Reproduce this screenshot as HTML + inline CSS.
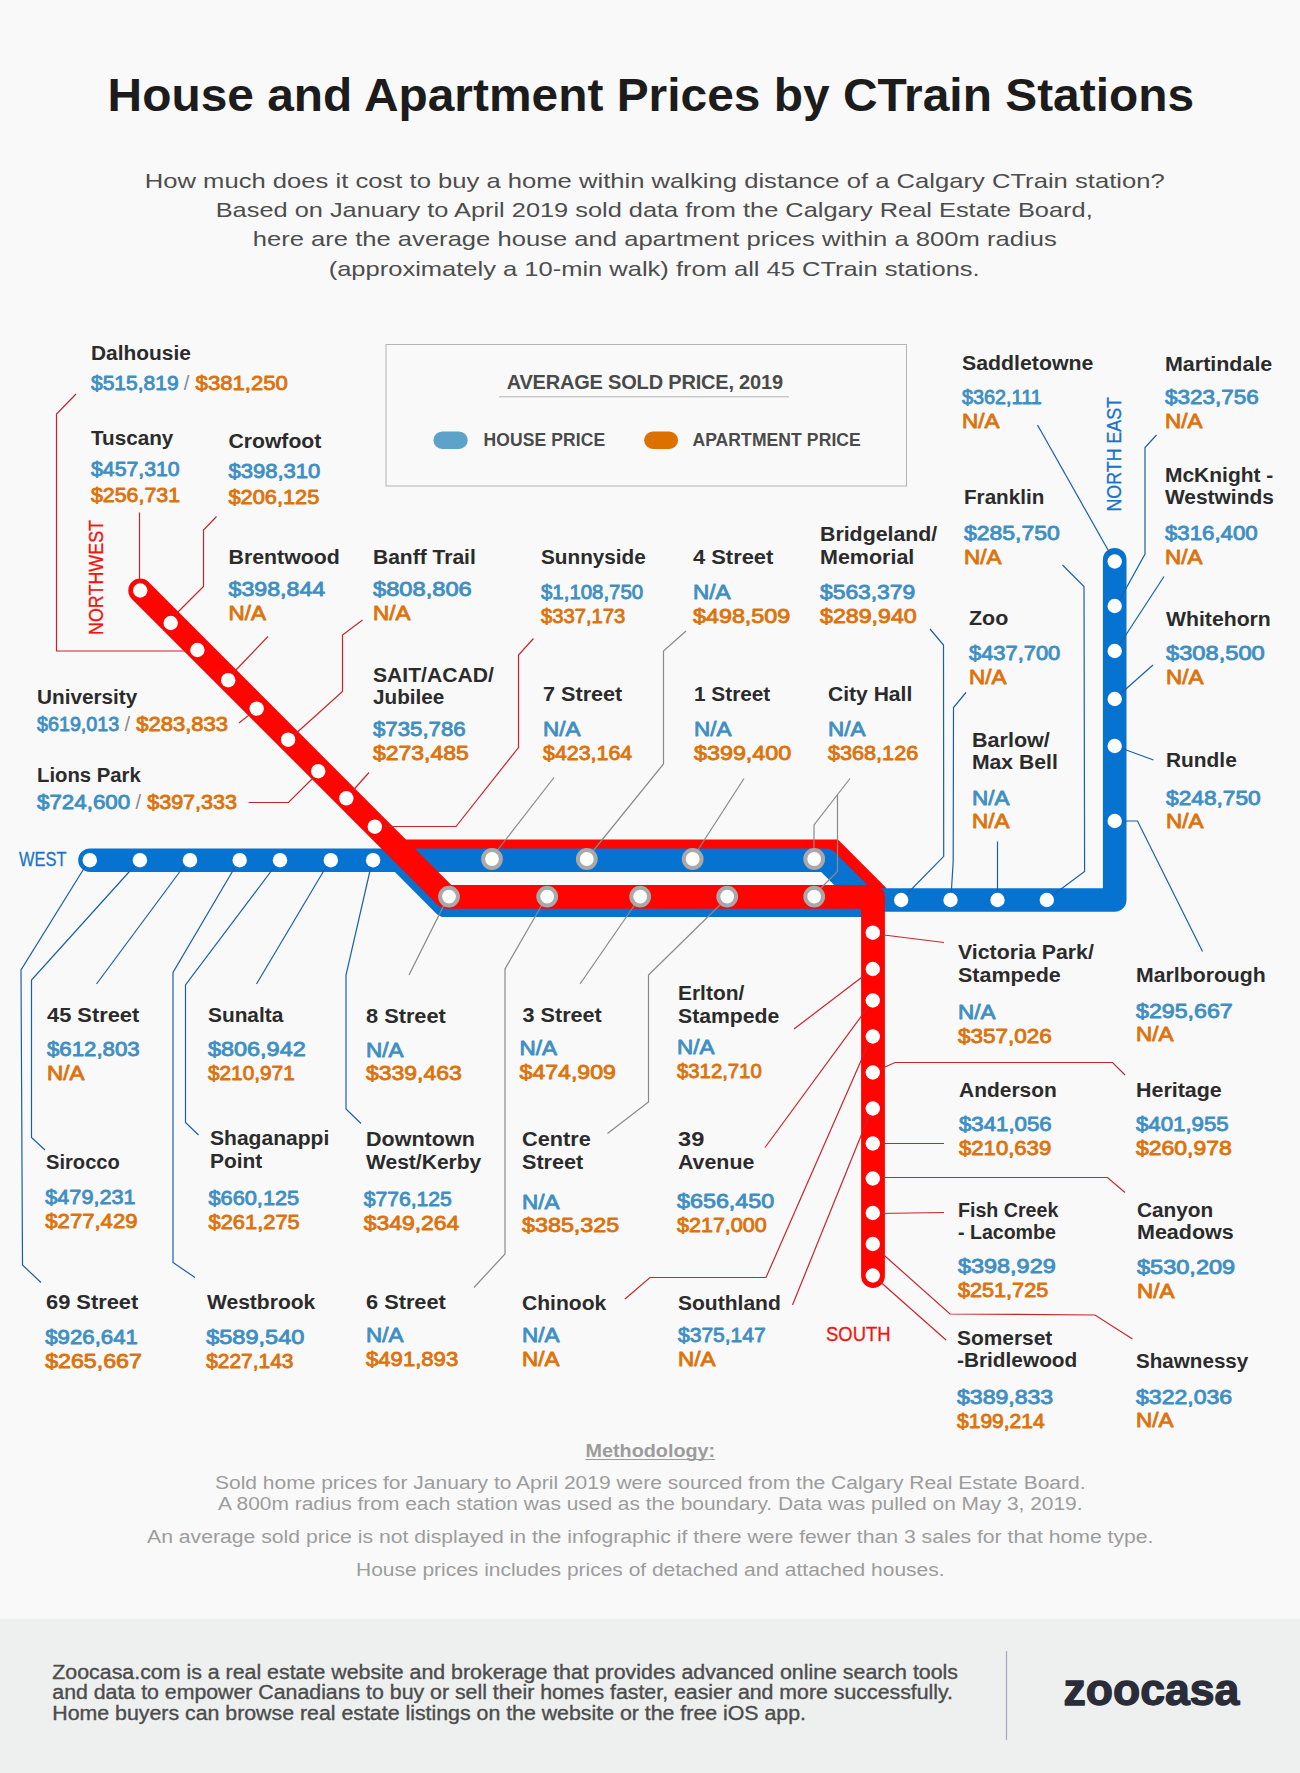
<!DOCTYPE html>
<html lang="en"><head><meta charset="utf-8"><title>House and Apartment Prices by CTrain Stations</title>
<style>
html,body{margin:0;padding:0;background:#f9f9f9;}
body{width:1300px;height:1773px;overflow:hidden;font-family:'Liberation Sans', sans-serif;}
svg{display:block;font-family:'Liberation Sans', sans-serif;}
</style></head><body>
<svg width="1300" height="1773" viewBox="0 0 1300 1773">
<rect x="0" y="0" width="1300" height="1773" fill="#f9f9f9"/>
<text x="107.6" y="110.8" font-size="46.5" fill="#1c1c1c" font-weight="bold" textLength="1086.5" lengthAdjust="spacingAndGlyphs">House and Apartment Prices by CTrain Stations</text>
<text x="144.7" y="188.3" font-size="21" fill="#4d4d4d" textLength="1020.0" lengthAdjust="spacingAndGlyphs">How much does it cost to buy a home within walking distance of a Calgary CTrain station?</text>
<text x="215.7" y="217.4" font-size="21" fill="#4d4d4d" textLength="877.0" lengthAdjust="spacingAndGlyphs">Based on January to April 2019 sold data from the Calgary Real Estate Board,</text>
<text x="252.7" y="246.3" font-size="21" fill="#4d4d4d" textLength="804.0" lengthAdjust="spacingAndGlyphs">here are the average house and apartment prices within a 800m radius</text>
<text x="328.7" y="275.7" font-size="21" fill="#4d4d4d" textLength="651.0" lengthAdjust="spacingAndGlyphs">(approximately a 10-min walk) from all 45 CTrain stations.</text>
<rect x="386" y="344.5" width="520.5" height="141.5" fill="none" stroke="#b4b4b4" stroke-width="1"/>
<text x="506.7" y="389.2" font-size="20" fill="#4a4a4a" font-weight="bold" textLength="276.3" lengthAdjust="spacing">AVERAGE SOLD PRICE, 2019</text>
<line x1="499" y1="396.8" x2="789" y2="396.8" stroke="#b4b4b4" stroke-width="1"/>
<rect x="433.5" y="431.5" width="34.2" height="17.4" rx="8.7" fill="#5da2c9"/>
<text x="483.4" y="445.9" font-size="17.5" fill="#4a4a4a" font-weight="bold" textLength="121.8" lengthAdjust="spacing">HOUSE PRICE</text>
<rect x="644.2" y="431.5" width="33.8" height="17.4" rx="8.7" fill="#dc7100"/>
<text x="692.4" y="445.9" font-size="17.5" fill="#4a4a4a" font-weight="bold" textLength="168.4" lengthAdjust="spacing">APARTMENT PRICE</text>
<polyline points="398,851.3 833,851.3 878,896.3" fill="none" stroke="#ff0400" stroke-width="23.6" stroke-linejoin="miter" stroke-linecap="butt"/>
<polyline points="399.5,860 444.8,905.3 873,905.3" fill="none" stroke="#0773d1" stroke-width="23.6" stroke-linejoin="round" stroke-linecap="butt"/>
<path d="M90,860.2 L826,860.2 L865.8,900 L1114.7,900 L1114.7,559.7" fill="none" stroke="#0773d1" stroke-width="23.6" stroke-linecap="round" stroke-linejoin="round"/>
<path d="M140.2,590.5 L446.4,896.9 L873,896.9 L873,1276" fill="none" stroke="#ff0400" stroke-width="23.8" stroke-linecap="round" stroke-linejoin="round"/>
<polyline points="76,394 56.5,414 56.5,651 190,651" fill="none" stroke="#c8252b" stroke-width="1.2"/>
<polyline points="139.5,512.5 139.5,585" fill="none" stroke="#c8252b" stroke-width="1.2"/>
<polyline points="216.5,516.5 203.5,530 203.5,586.5 176,614" fill="none" stroke="#c8252b" stroke-width="1.2"/>
<polyline points="268,636.5 233,673" fill="none" stroke="#c8252b" stroke-width="1.2"/>
<polyline points="239,723 258,708" fill="none" stroke="#c8252b" stroke-width="1.2"/>
<polyline points="362.5,620 342.5,635 342.5,691.5 292,737" fill="none" stroke="#c8252b" stroke-width="1.2"/>
<polyline points="248.5,802.5 288.5,802.5 318,773" fill="none" stroke="#c8252b" stroke-width="1.2"/>
<polyline points="369,772.5 349,795" fill="none" stroke="#c8252b" stroke-width="1.2"/>
<polyline points="533.5,638.5 518.5,655 518.5,747.5 456,826.5 378,826.5" fill="none" stroke="#c8252b" stroke-width="1.2"/>
<polyline points="554,777.5 493,856" fill="none" stroke="#8a8a8a" stroke-width="1.2"/>
<polyline points="686,631 663.5,651 663.5,764 589,856" fill="none" stroke="#8a8a8a" stroke-width="1.2"/>
<polyline points="744,778.5 694,856" fill="none" stroke="#8a8a8a" stroke-width="1.2"/>
<polyline points="850,778.5 814,825 814,856" fill="none" stroke="#8a8a8a" stroke-width="1.2"/>
<polyline points="837.5,795 837.5,871.4 816,893" fill="none" stroke="#8a8a8a" stroke-width="1.2"/>
<polyline points="445,903 409,975" fill="none" stroke="#8a8a8a" stroke-width="1.2"/>
<polyline points="543,903 505,969 505,1254 474,1287.5" fill="none" stroke="#8a8a8a" stroke-width="1.2"/>
<polyline points="636,903 580,984" fill="none" stroke="#8a8a8a" stroke-width="1.2"/>
<polyline points="722,903 648.5,975 648.5,1102 607.5,1133.5" fill="none" stroke="#8a8a8a" stroke-width="1.2"/>
<polyline points="88,862 21,970 22.5,1265 41,1282.5" fill="none" stroke="#1a5fab" stroke-width="1.2"/>
<polyline points="138,862 31.5,980 31.5,1137.5 45,1150" fill="none" stroke="#1a5fab" stroke-width="1.2"/>
<polyline points="187,862 96.5,984" fill="none" stroke="#1a5fab" stroke-width="1.2"/>
<polyline points="238,862 173,972.5 173,1262.5 195,1277.5" fill="none" stroke="#1a5fab" stroke-width="1.2"/>
<polyline points="278,862 185.5,985 185.5,1122.5 198.5,1135" fill="none" stroke="#1a5fab" stroke-width="1.2"/>
<polyline points="329,862 256.5,984" fill="none" stroke="#1a5fab" stroke-width="1.2"/>
<polyline points="372,862 346,975 346,1109 361,1123.5" fill="none" stroke="#1a5fab" stroke-width="1.2"/>
<polyline points="1037.5,425 1112,557" fill="none" stroke="#1a5fab" stroke-width="1.2"/>
<polyline points="1156.5,435 1145,447.5 1145,554 1118,603" fill="none" stroke="#1a5fab" stroke-width="1.2"/>
<polyline points="1164,576.5 1118,647" fill="none" stroke="#1a5fab" stroke-width="1.2"/>
<polyline points="1153,665 1118,696" fill="none" stroke="#1a5fab" stroke-width="1.2"/>
<polyline points="1153.5,760 1118,747" fill="none" stroke="#1a5fab" stroke-width="1.2"/>
<polyline points="1117,821 1137.5,821 1202.5,951.5" fill="none" stroke="#1a5fab" stroke-width="1.2"/>
<polyline points="1062.5,565 1084,586.5 1084.6,871.4 1049,898" fill="none" stroke="#1a5fab" stroke-width="1.2"/>
<polyline points="966,692.5 953.5,707.5 953.2,861.5 951,897" fill="none" stroke="#1a5fab" stroke-width="1.2"/>
<polyline points="930,629 943.5,645 943.7,856.3 903,898" fill="none" stroke="#1a5fab" stroke-width="1.2"/>
<polyline points="997.5,841.5 997.5,897" fill="none" stroke="#1a5fab" stroke-width="1.2"/>
<polyline points="876,934 944,942.5" fill="none" stroke="#c8252b" stroke-width="1.2"/>
<polyline points="794,1029 870,971" fill="none" stroke="#c8252b" stroke-width="1.2"/>
<polyline points="765,1147.5 871,1003" fill="none" stroke="#c8252b" stroke-width="1.2"/>
<polyline points="871,1038 766,1277.5 650,1277.5 625,1299" fill="none" stroke="#c8252b" stroke-width="1.2"/>
<polyline points="792.5,1305 871,1111" fill="none" stroke="#c8252b" stroke-width="1.2"/>
<polyline points="876,1071 895,1062.5 1112.5,1062.5 1125,1075" fill="none" stroke="#c8252b" stroke-width="1.2"/>
<polyline points="876,1143.5 944,1143.5" fill="none" stroke="#c8252b" stroke-width="1.2"/>
<polyline points="876,1177.5 1107.5,1177.5 1125,1192.5" fill="none" stroke="#c8252b" stroke-width="1.2"/>
<polyline points="876,1213.5 944,1212.5" fill="none" stroke="#c8252b" stroke-width="1.2"/>
<polyline points="876,1248 950,1314 1095,1315 1132.5,1339" fill="none" stroke="#c8252b" stroke-width="1.2"/>
<polyline points="876,1278 946,1340" fill="none" stroke="#c8252b" stroke-width="1.2"/>
<circle cx="140.2" cy="590.5" r="7.2" fill="#fff"/>
<circle cx="170.7" cy="623" r="7.2" fill="#fff"/>
<circle cx="197.4" cy="650" r="7.2" fill="#fff"/>
<circle cx="228.2" cy="680.2" r="7.2" fill="#fff"/>
<circle cx="256.7" cy="708.6" r="7.2" fill="#fff"/>
<circle cx="288.1" cy="739.7" r="7.2" fill="#fff"/>
<circle cx="318.2" cy="771.2" r="7.2" fill="#fff"/>
<circle cx="346.3" cy="798.3" r="7.2" fill="#fff"/>
<circle cx="374.8" cy="826.7" r="7.2" fill="#fff"/>
<circle cx="89.8" cy="860.2" r="7.2" fill="#fff"/>
<circle cx="139.9" cy="860.2" r="7.2" fill="#fff"/>
<circle cx="190" cy="860.2" r="7.2" fill="#fff"/>
<circle cx="239.7" cy="860.2" r="7.2" fill="#fff"/>
<circle cx="280" cy="860.2" r="7.2" fill="#fff"/>
<circle cx="330.8" cy="860.2" r="7.2" fill="#fff"/>
<circle cx="373.1" cy="860.2" r="7.2" fill="#fff"/>
<circle cx="492" cy="859" r="8.9" fill="#fff" stroke="#a9a9a9" stroke-width="4"/>
<circle cx="586.8" cy="859" r="8.9" fill="#fff" stroke="#a9a9a9" stroke-width="4"/>
<circle cx="692.7" cy="859" r="8.9" fill="#fff" stroke="#a9a9a9" stroke-width="4"/>
<circle cx="814.2" cy="859" r="8.9" fill="#fff" stroke="#a9a9a9" stroke-width="4"/>
<circle cx="449" cy="896.6" r="8.9" fill="#fff" stroke="#a9a9a9" stroke-width="4"/>
<circle cx="547.2" cy="896.6" r="8.9" fill="#fff" stroke="#a9a9a9" stroke-width="4"/>
<circle cx="640.2" cy="896.6" r="8.9" fill="#fff" stroke="#a9a9a9" stroke-width="4"/>
<circle cx="727.2" cy="896.6" r="8.9" fill="#fff" stroke="#a9a9a9" stroke-width="4"/>
<circle cx="814.2" cy="896.6" r="8.9" fill="#fff" stroke="#a9a9a9" stroke-width="4"/>
<circle cx="901.2" cy="900" r="7.2" fill="#fff"/>
<circle cx="950.5" cy="900" r="7.2" fill="#fff"/>
<circle cx="997.5" cy="900" r="7.2" fill="#fff"/>
<circle cx="1046.8" cy="900" r="7.2" fill="#fff"/>
<circle cx="1114.7" cy="561.5" r="7.2" fill="#fff"/>
<circle cx="1114.7" cy="606" r="7.2" fill="#fff"/>
<circle cx="1114.7" cy="651" r="7.2" fill="#fff"/>
<circle cx="1114.7" cy="699" r="7.2" fill="#fff"/>
<circle cx="1114.7" cy="746" r="7.2" fill="#fff"/>
<circle cx="1114.7" cy="821" r="7.2" fill="#fff"/>
<circle cx="872.8" cy="932.7" r="7.2" fill="#fff"/>
<circle cx="872.8" cy="969" r="7.2" fill="#fff"/>
<circle cx="872.8" cy="1000.5" r="7.2" fill="#fff"/>
<circle cx="872.8" cy="1036.5" r="7.2" fill="#fff"/>
<circle cx="872.8" cy="1072.5" r="7.2" fill="#fff"/>
<circle cx="872.8" cy="1108.5" r="7.2" fill="#fff"/>
<circle cx="872.8" cy="1143.5" r="7.2" fill="#fff"/>
<circle cx="872.8" cy="1178.5" r="7.2" fill="#fff"/>
<circle cx="872.8" cy="1213" r="7.2" fill="#fff"/>
<circle cx="872.8" cy="1244" r="7.2" fill="#fff"/>
<circle cx="872.8" cy="1275.5" r="7.2" fill="#fff"/>
<text x="19" y="866.3" font-size="20.5" fill="#1a73c6" textLength="47.5" lengthAdjust="spacingAndGlyphs" stroke="#1a73c6" stroke-width="0.3">WEST</text>
<text x="826" y="1340.5" font-size="20.5" fill="#f6120e" textLength="64.5" lengthAdjust="spacingAndGlyphs" stroke="#f6120e" stroke-width="0.3">SOUTH</text>
<text transform="translate(103.2,635) rotate(-90)" font-size="20.5" fill="#f6120e" stroke="#f6120e" stroke-width="0.3" textLength="115" lengthAdjust="spacingAndGlyphs">NORTHWEST</text>
<text transform="translate(1121.4,511.5) rotate(-90)" font-size="20.5" fill="#1a73c6" stroke="#1a73c6" stroke-width="0.3" textLength="114.5" lengthAdjust="spacingAndGlyphs">NORTH EAST</text>
<text x="91" y="360.3" font-size="19.5" fill="#2b2b2b" font-weight="bold" textLength="99.8" lengthAdjust="spacingAndGlyphs">Dalhousie</text>
<text x="91" y="389.6" font-size="20" fill="#3f8fc3" textLength="87.6" lengthAdjust="spacingAndGlyphs" stroke="#3f8fc3" stroke-width="0.85" stroke-linejoin="round">$515,819</text>
<text x="183.8" y="389.6" font-size="20" fill="#8a8a8a">/</text>
<text x="195.6" y="389.6" font-size="20" fill="#dc730c" textLength="92.2" lengthAdjust="spacingAndGlyphs" stroke="#dc730c" stroke-width="0.85" stroke-linejoin="round">$381,250</text>
<text x="91" y="445.3" font-size="19.5" fill="#2b2b2b" font-weight="bold" textLength="82.3" lengthAdjust="spacingAndGlyphs">Tuscany</text>
<text x="91" y="476.4" font-size="20" fill="#3f8fc3" textLength="88.6" lengthAdjust="spacingAndGlyphs" stroke="#3f8fc3" stroke-width="0.85" stroke-linejoin="round">$457,310</text>
<text x="91" y="501.6" font-size="20" fill="#dc730c" textLength="89.0" lengthAdjust="spacingAndGlyphs" stroke="#dc730c" stroke-width="0.85" stroke-linejoin="round">$256,731</text>
<text x="228.5" y="447.9" font-size="19.5" fill="#2b2b2b" font-weight="bold" textLength="92.8" lengthAdjust="spacingAndGlyphs">Crowfoot</text>
<text x="228.5" y="478.4" font-size="20" fill="#3f8fc3" textLength="91.8" lengthAdjust="spacingAndGlyphs" stroke="#3f8fc3" stroke-width="0.85" stroke-linejoin="round">$398,310</text>
<text x="228.5" y="504" font-size="20" fill="#dc730c" textLength="90.8" lengthAdjust="spacingAndGlyphs" stroke="#dc730c" stroke-width="0.85" stroke-linejoin="round">$206,125</text>
<text x="228.5" y="564.3" font-size="19.5" fill="#2b2b2b" font-weight="bold" textLength="111.3" lengthAdjust="spacingAndGlyphs">Brentwood</text>
<text x="228.5" y="595.5" font-size="20" fill="#3f8fc3" textLength="96.7" lengthAdjust="spacingAndGlyphs" stroke="#3f8fc3" stroke-width="0.85" stroke-linejoin="round">$398,844</text>
<text x="228.5" y="619.5" font-size="20" fill="#dc730c" textLength="37.4" lengthAdjust="spacingAndGlyphs" stroke="#dc730c" stroke-width="0.85" stroke-linejoin="round">N/A</text>
<text x="373" y="564.3" font-size="19.5" fill="#2b2b2b" font-weight="bold" textLength="102.8" lengthAdjust="spacingAndGlyphs">Banff Trail</text>
<text x="373" y="595.5" font-size="20" fill="#3f8fc3" textLength="98.7" lengthAdjust="spacingAndGlyphs" stroke="#3f8fc3" stroke-width="0.85" stroke-linejoin="round">$808,806</text>
<text x="373" y="619.5" font-size="20" fill="#dc730c" textLength="37.4" lengthAdjust="spacingAndGlyphs" stroke="#dc730c" stroke-width="0.85" stroke-linejoin="round">N/A</text>
<text x="541" y="564.3" font-size="19.5" fill="#2b2b2b" font-weight="bold" textLength="104.8" lengthAdjust="spacingAndGlyphs">Sunnyside</text>
<text x="541" y="599" font-size="20" fill="#3f8fc3" textLength="102.2" lengthAdjust="spacingAndGlyphs" stroke="#3f8fc3" stroke-width="0.85" stroke-linejoin="round">$1,108,750</text>
<text x="541" y="622.5" font-size="20" fill="#dc730c" textLength="84.2" lengthAdjust="spacingAndGlyphs" stroke="#dc730c" stroke-width="0.85" stroke-linejoin="round">$337,173</text>
<text x="693" y="564.3" font-size="19.5" fill="#2b2b2b" font-weight="bold" textLength="80.3" lengthAdjust="spacingAndGlyphs">4 Street</text>
<text x="693" y="599" font-size="20" fill="#3f8fc3" textLength="37.4" lengthAdjust="spacingAndGlyphs" stroke="#3f8fc3" stroke-width="0.85" stroke-linejoin="round">N/A</text>
<text x="693" y="622.5" font-size="20" fill="#dc730c" textLength="97.2" lengthAdjust="spacingAndGlyphs" stroke="#dc730c" stroke-width="0.85" stroke-linejoin="round">$498,509</text>
<text x="820" y="541.3" font-size="19.5" fill="#2b2b2b" font-weight="bold" textLength="117.3" lengthAdjust="spacingAndGlyphs">Bridgeland/</text>
<text x="820" y="564.3" font-size="19.5" fill="#2b2b2b" font-weight="bold" textLength="94.3" lengthAdjust="spacingAndGlyphs">Memorial</text>
<text x="820" y="599" font-size="20" fill="#3f8fc3" textLength="95.2" lengthAdjust="spacingAndGlyphs" stroke="#3f8fc3" stroke-width="0.85" stroke-linejoin="round">$563,379</text>
<text x="820" y="622.5" font-size="20" fill="#dc730c" textLength="96.7" lengthAdjust="spacingAndGlyphs" stroke="#dc730c" stroke-width="0.85" stroke-linejoin="round">$289,940</text>
<text x="37" y="704.3" font-size="19.5" fill="#2b2b2b" font-weight="bold" textLength="100.3" lengthAdjust="spacingAndGlyphs">University</text>
<text x="37" y="731" font-size="20" fill="#3f8fc3" textLength="82.2" lengthAdjust="spacingAndGlyphs" stroke="#3f8fc3" stroke-width="0.85" stroke-linejoin="round">$619,013</text>
<text x="124.39999999999999" y="731" font-size="20" fill="#8a8a8a">/</text>
<text x="136.2" y="731" font-size="20" fill="#dc730c" textLength="91.8" lengthAdjust="spacingAndGlyphs" stroke="#dc730c" stroke-width="0.85" stroke-linejoin="round">$283,833</text>
<text x="37" y="782.3" font-size="19.5" fill="#2b2b2b" font-weight="bold" textLength="103.8" lengthAdjust="spacingAndGlyphs">Lions Park</text>
<text x="37" y="809" font-size="20" fill="#3f8fc3" textLength="93.2" lengthAdjust="spacingAndGlyphs" stroke="#3f8fc3" stroke-width="0.85" stroke-linejoin="round">$724,600</text>
<text x="135.4" y="809" font-size="20" fill="#8a8a8a">/</text>
<text x="147.2" y="809" font-size="20" fill="#dc730c" textLength="89.8" lengthAdjust="spacingAndGlyphs" stroke="#dc730c" stroke-width="0.85" stroke-linejoin="round">$397,333</text>
<text x="373" y="682.3" font-size="19.5" fill="#2b2b2b" font-weight="bold" textLength="120.8" lengthAdjust="spacingAndGlyphs">SAIT/ACAD/</text>
<text x="373" y="704.3" font-size="19.5" fill="#2b2b2b" font-weight="bold" textLength="71.3" lengthAdjust="spacingAndGlyphs">Jubilee</text>
<text x="373" y="736" font-size="20" fill="#3f8fc3" textLength="92.7" lengthAdjust="spacingAndGlyphs" stroke="#3f8fc3" stroke-width="0.85" stroke-linejoin="round">$735,786</text>
<text x="373" y="760" font-size="20" fill="#dc730c" textLength="95.7" lengthAdjust="spacingAndGlyphs" stroke="#dc730c" stroke-width="0.85" stroke-linejoin="round">$273,485</text>
<text x="543" y="701.3" font-size="19.5" fill="#2b2b2b" font-weight="bold" textLength="79.3" lengthAdjust="spacingAndGlyphs">7 Street</text>
<text x="543" y="736" font-size="20" fill="#3f8fc3" textLength="37.4" lengthAdjust="spacingAndGlyphs" stroke="#3f8fc3" stroke-width="0.85" stroke-linejoin="round">N/A</text>
<text x="543" y="760" font-size="20" fill="#dc730c" textLength="89.2" lengthAdjust="spacingAndGlyphs" stroke="#dc730c" stroke-width="0.85" stroke-linejoin="round">$423,164</text>
<text x="694" y="701.3" font-size="19.5" fill="#2b2b2b" font-weight="bold" textLength="76.3" lengthAdjust="spacingAndGlyphs">1 Street</text>
<text x="694" y="736" font-size="20" fill="#3f8fc3" textLength="37.4" lengthAdjust="spacingAndGlyphs" stroke="#3f8fc3" stroke-width="0.85" stroke-linejoin="round">N/A</text>
<text x="694" y="760" font-size="20" fill="#dc730c" textLength="97.2" lengthAdjust="spacingAndGlyphs" stroke="#dc730c" stroke-width="0.85" stroke-linejoin="round">$399,400</text>
<text x="828" y="701.3" font-size="19.5" fill="#2b2b2b" font-weight="bold" textLength="84.3" lengthAdjust="spacingAndGlyphs">City Hall</text>
<text x="828" y="736" font-size="20" fill="#3f8fc3" textLength="37.4" lengthAdjust="spacingAndGlyphs" stroke="#3f8fc3" stroke-width="0.85" stroke-linejoin="round">N/A</text>
<text x="828" y="760" font-size="20" fill="#dc730c" textLength="90.2" lengthAdjust="spacingAndGlyphs" stroke="#dc730c" stroke-width="0.85" stroke-linejoin="round">$368,126</text>
<text x="962" y="369.9" font-size="19.5" fill="#2b2b2b" font-weight="bold" textLength="131.3" lengthAdjust="spacingAndGlyphs">Saddletowne</text>
<text x="962" y="403.5" font-size="20" fill="#3f8fc3" textLength="79.7" lengthAdjust="spacingAndGlyphs" stroke="#3f8fc3" stroke-width="0.85" stroke-linejoin="round">$362,111</text>
<text x="962" y="427.5" font-size="20" fill="#dc730c" textLength="37.4" lengthAdjust="spacingAndGlyphs" stroke="#dc730c" stroke-width="0.85" stroke-linejoin="round">N/A</text>
<text x="1165" y="370.9" font-size="19.5" fill="#2b2b2b" font-weight="bold" textLength="107.3" lengthAdjust="spacingAndGlyphs">Martindale</text>
<text x="1165" y="403.5" font-size="20" fill="#3f8fc3" textLength="93.7" lengthAdjust="spacingAndGlyphs" stroke="#3f8fc3" stroke-width="0.85" stroke-linejoin="round">$323,756</text>
<text x="1165" y="427.5" font-size="20" fill="#dc730c" textLength="37.4" lengthAdjust="spacingAndGlyphs" stroke="#dc730c" stroke-width="0.85" stroke-linejoin="round">N/A</text>
<text x="964" y="503.9" font-size="19.5" fill="#2b2b2b" font-weight="bold" textLength="80.3" lengthAdjust="spacingAndGlyphs">Franklin</text>
<text x="964" y="539.5" font-size="20" fill="#3f8fc3" textLength="95.7" lengthAdjust="spacingAndGlyphs" stroke="#3f8fc3" stroke-width="0.85" stroke-linejoin="round">$285,750</text>
<text x="964" y="563.5" font-size="20" fill="#dc730c" textLength="37.4" lengthAdjust="spacingAndGlyphs" stroke="#dc730c" stroke-width="0.85" stroke-linejoin="round">N/A</text>
<text x="1165" y="481.9" font-size="19.5" fill="#2b2b2b" font-weight="bold" textLength="108.3" lengthAdjust="spacingAndGlyphs">McKnight -</text>
<text x="1165" y="503.9" font-size="19.5" fill="#2b2b2b" font-weight="bold" textLength="108.8" lengthAdjust="spacingAndGlyphs">Westwinds</text>
<text x="1165" y="539.5" font-size="20" fill="#3f8fc3" textLength="92.7" lengthAdjust="spacingAndGlyphs" stroke="#3f8fc3" stroke-width="0.85" stroke-linejoin="round">$316,400</text>
<text x="1165" y="563.5" font-size="20" fill="#dc730c" textLength="37.4" lengthAdjust="spacingAndGlyphs" stroke="#dc730c" stroke-width="0.85" stroke-linejoin="round">N/A</text>
<text x="969" y="624.9" font-size="19.5" fill="#2b2b2b" font-weight="bold" textLength="39.3" lengthAdjust="spacingAndGlyphs">Zoo</text>
<text x="969" y="659.5" font-size="20" fill="#3f8fc3" textLength="91.2" lengthAdjust="spacingAndGlyphs" stroke="#3f8fc3" stroke-width="0.85" stroke-linejoin="round">$437,700</text>
<text x="969" y="683.5" font-size="20" fill="#dc730c" textLength="37.4" lengthAdjust="spacingAndGlyphs" stroke="#dc730c" stroke-width="0.85" stroke-linejoin="round">N/A</text>
<text x="1166" y="625.9" font-size="19.5" fill="#2b2b2b" font-weight="bold" textLength="104.8" lengthAdjust="spacingAndGlyphs">Whitehorn</text>
<text x="1166" y="659.5" font-size="20" fill="#3f8fc3" textLength="98.7" lengthAdjust="spacingAndGlyphs" stroke="#3f8fc3" stroke-width="0.85" stroke-linejoin="round">$308,500</text>
<text x="1166" y="683.5" font-size="20" fill="#dc730c" textLength="37.4" lengthAdjust="spacingAndGlyphs" stroke="#dc730c" stroke-width="0.85" stroke-linejoin="round">N/A</text>
<text x="972" y="746.9" font-size="19.5" fill="#2b2b2b" font-weight="bold" textLength="77.8" lengthAdjust="spacingAndGlyphs">Barlow/</text>
<text x="972" y="768.9" font-size="19.5" fill="#2b2b2b" font-weight="bold" textLength="85.8" lengthAdjust="spacingAndGlyphs">Max Bell</text>
<text x="972" y="804.5" font-size="20" fill="#3f8fc3" textLength="37.4" lengthAdjust="spacingAndGlyphs" stroke="#3f8fc3" stroke-width="0.85" stroke-linejoin="round">N/A</text>
<text x="972" y="827.5" font-size="20" fill="#dc730c" textLength="37.4" lengthAdjust="spacingAndGlyphs" stroke="#dc730c" stroke-width="0.85" stroke-linejoin="round">N/A</text>
<text x="1166" y="766.9" font-size="19.5" fill="#2b2b2b" font-weight="bold" textLength="70.8" lengthAdjust="spacingAndGlyphs">Rundle</text>
<text x="1166" y="804.5" font-size="20" fill="#3f8fc3" textLength="94.7" lengthAdjust="spacingAndGlyphs" stroke="#3f8fc3" stroke-width="0.85" stroke-linejoin="round">$248,750</text>
<text x="1166" y="827.5" font-size="20" fill="#dc730c" textLength="37.4" lengthAdjust="spacingAndGlyphs" stroke="#dc730c" stroke-width="0.85" stroke-linejoin="round">N/A</text>
<text x="958" y="958.9" font-size="19.5" fill="#2b2b2b" font-weight="bold" textLength="135.8" lengthAdjust="spacingAndGlyphs">Victoria Park/</text>
<text x="958" y="981.9" font-size="19.5" fill="#2b2b2b" font-weight="bold" textLength="102.8" lengthAdjust="spacingAndGlyphs">Stampede</text>
<text x="958" y="1018.5" font-size="20" fill="#3f8fc3" textLength="37.4" lengthAdjust="spacingAndGlyphs" stroke="#3f8fc3" stroke-width="0.85" stroke-linejoin="round">N/A</text>
<text x="958" y="1042.5" font-size="20" fill="#dc730c" textLength="93.7" lengthAdjust="spacingAndGlyphs" stroke="#dc730c" stroke-width="0.85" stroke-linejoin="round">$357,026</text>
<text x="1136" y="981.9" font-size="19.5" fill="#2b2b2b" font-weight="bold" textLength="129.8" lengthAdjust="spacingAndGlyphs">Marlborough</text>
<text x="1136" y="1017.5" font-size="20" fill="#3f8fc3" textLength="96.7" lengthAdjust="spacingAndGlyphs" stroke="#3f8fc3" stroke-width="0.85" stroke-linejoin="round">$295,667</text>
<text x="1136" y="1040.5" font-size="20" fill="#dc730c" textLength="37.4" lengthAdjust="spacingAndGlyphs" stroke="#dc730c" stroke-width="0.85" stroke-linejoin="round">N/A</text>
<text x="959" y="1096.9" font-size="19.5" fill="#2b2b2b" font-weight="bold" textLength="97.8" lengthAdjust="spacingAndGlyphs">Anderson</text>
<text x="959" y="1130.5" font-size="20" fill="#3f8fc3" textLength="92.7" lengthAdjust="spacingAndGlyphs" stroke="#3f8fc3" stroke-width="0.85" stroke-linejoin="round">$341,056</text>
<text x="959" y="1154.5" font-size="20" fill="#dc730c" textLength="92.2" lengthAdjust="spacingAndGlyphs" stroke="#dc730c" stroke-width="0.85" stroke-linejoin="round">$210,639</text>
<text x="1136" y="1096.9" font-size="19.5" fill="#2b2b2b" font-weight="bold" textLength="85.8" lengthAdjust="spacingAndGlyphs">Heritage</text>
<text x="1136" y="1130.5" font-size="20" fill="#3f8fc3" textLength="92.7" lengthAdjust="spacingAndGlyphs" stroke="#3f8fc3" stroke-width="0.85" stroke-linejoin="round">$401,955</text>
<text x="1136" y="1154.5" font-size="20" fill="#dc730c" textLength="95.7" lengthAdjust="spacingAndGlyphs" stroke="#dc730c" stroke-width="0.85" stroke-linejoin="round">$260,978</text>
<text x="958" y="1216.9" font-size="19.5" fill="#2b2b2b" font-weight="bold" textLength="100.3" lengthAdjust="spacingAndGlyphs">Fish Creek</text>
<text x="958" y="1238.9" font-size="19.5" fill="#2b2b2b" font-weight="bold" textLength="97.8" lengthAdjust="spacingAndGlyphs">- Lacombe</text>
<text x="958" y="1272.5" font-size="20" fill="#3f8fc3" textLength="97.7" lengthAdjust="spacingAndGlyphs" stroke="#3f8fc3" stroke-width="0.85" stroke-linejoin="round">$398,929</text>
<text x="958" y="1296.5" font-size="20" fill="#dc730c" textLength="90.2" lengthAdjust="spacingAndGlyphs" stroke="#dc730c" stroke-width="0.85" stroke-linejoin="round">$251,725</text>
<text x="1137" y="1216.9" font-size="19.5" fill="#2b2b2b" font-weight="bold" textLength="76.3" lengthAdjust="spacingAndGlyphs">Canyon</text>
<text x="1137" y="1238.9" font-size="19.5" fill="#2b2b2b" font-weight="bold" textLength="96.8" lengthAdjust="spacingAndGlyphs">Meadows</text>
<text x="1137" y="1273.5" font-size="20" fill="#3f8fc3" textLength="98.2" lengthAdjust="spacingAndGlyphs" stroke="#3f8fc3" stroke-width="0.85" stroke-linejoin="round">$530,209</text>
<text x="1137" y="1297.5" font-size="20" fill="#dc730c" textLength="37.4" lengthAdjust="spacingAndGlyphs" stroke="#dc730c" stroke-width="0.85" stroke-linejoin="round">N/A</text>
<text x="957" y="1344.9" font-size="19.5" fill="#2b2b2b" font-weight="bold" textLength="95.3" lengthAdjust="spacingAndGlyphs">Somerset</text>
<text x="957" y="1366.9" font-size="19.5" fill="#2b2b2b" font-weight="bold" textLength="120.3" lengthAdjust="spacingAndGlyphs">-Bridlewood</text>
<text x="957" y="1403.5" font-size="20" fill="#3f8fc3" textLength="96.2" lengthAdjust="spacingAndGlyphs" stroke="#3f8fc3" stroke-width="0.85" stroke-linejoin="round">$389,833</text>
<text x="957" y="1427.5" font-size="20" fill="#dc730c" textLength="87.7" lengthAdjust="spacingAndGlyphs" stroke="#dc730c" stroke-width="0.85" stroke-linejoin="round">$199,214</text>
<text x="1136" y="1367.9" font-size="19.5" fill="#2b2b2b" font-weight="bold" textLength="112.3" lengthAdjust="spacingAndGlyphs">Shawnessy</text>
<text x="1136" y="1403.5" font-size="20" fill="#3f8fc3" textLength="96.2" lengthAdjust="spacingAndGlyphs" stroke="#3f8fc3" stroke-width="0.85" stroke-linejoin="round">$322,036</text>
<text x="1136" y="1426.5" font-size="20" fill="#dc730c" textLength="37.4" lengthAdjust="spacingAndGlyphs" stroke="#dc730c" stroke-width="0.85" stroke-linejoin="round">N/A</text>
<text x="47" y="1021.9" font-size="19.5" fill="#2b2b2b" font-weight="bold" textLength="92.3" lengthAdjust="spacingAndGlyphs">45 Street</text>
<text x="47" y="1055.5" font-size="20" fill="#3f8fc3" textLength="92.7" lengthAdjust="spacingAndGlyphs" stroke="#3f8fc3" stroke-width="0.85" stroke-linejoin="round">$612,803</text>
<text x="47" y="1079.5" font-size="20" fill="#dc730c" textLength="37.4" lengthAdjust="spacingAndGlyphs" stroke="#dc730c" stroke-width="0.85" stroke-linejoin="round">N/A</text>
<text x="208" y="1021.9" font-size="19.5" fill="#2b2b2b" font-weight="bold" textLength="75.3" lengthAdjust="spacingAndGlyphs">Sunalta</text>
<text x="208" y="1055.5" font-size="20" fill="#3f8fc3" textLength="97.7" lengthAdjust="spacingAndGlyphs" stroke="#3f8fc3" stroke-width="0.85" stroke-linejoin="round">$806,942</text>
<text x="208" y="1079.5" font-size="20" fill="#dc730c" textLength="86.7" lengthAdjust="spacingAndGlyphs" stroke="#dc730c" stroke-width="0.85" stroke-linejoin="round">$210,971</text>
<text x="366" y="1022.9" font-size="19.5" fill="#2b2b2b" font-weight="bold" textLength="79.8" lengthAdjust="spacingAndGlyphs">8 Street</text>
<text x="366" y="1056.5" font-size="20" fill="#3f8fc3" textLength="37.4" lengthAdjust="spacingAndGlyphs" stroke="#3f8fc3" stroke-width="0.85" stroke-linejoin="round">N/A</text>
<text x="366" y="1079.5" font-size="20" fill="#dc730c" textLength="95.7" lengthAdjust="spacingAndGlyphs" stroke="#dc730c" stroke-width="0.85" stroke-linejoin="round">$339,463</text>
<text x="522.5" y="1021.9" font-size="19.5" fill="#2b2b2b" font-weight="bold" textLength="79.3" lengthAdjust="spacingAndGlyphs">3 Street</text>
<text x="519.6" y="1054.5" font-size="20" fill="#3f8fc3" textLength="37.4" lengthAdjust="spacingAndGlyphs" stroke="#3f8fc3" stroke-width="0.85" stroke-linejoin="round">N/A</text>
<text x="519.6" y="1078.5" font-size="20" fill="#dc730c" textLength="96.2" lengthAdjust="spacingAndGlyphs" stroke="#dc730c" stroke-width="0.85" stroke-linejoin="round">$474,909</text>
<text x="678" y="999.9" font-size="19.5" fill="#2b2b2b" font-weight="bold" textLength="66.3" lengthAdjust="spacingAndGlyphs">Erlton/</text>
<text x="678" y="1022.9" font-size="19.5" fill="#2b2b2b" font-weight="bold" textLength="101.3" lengthAdjust="spacingAndGlyphs">Stampede</text>
<text x="677" y="1053.5" font-size="20" fill="#3f8fc3" textLength="37.4" lengthAdjust="spacingAndGlyphs" stroke="#3f8fc3" stroke-width="0.85" stroke-linejoin="round">N/A</text>
<text x="677" y="1077.5" font-size="20" fill="#dc730c" textLength="84.7" lengthAdjust="spacingAndGlyphs" stroke="#dc730c" stroke-width="0.85" stroke-linejoin="round">$312,710</text>
<text x="46" y="1168.9" font-size="19.5" fill="#2b2b2b" font-weight="bold" textLength="73.8" lengthAdjust="spacingAndGlyphs">Sirocco</text>
<text x="45.3" y="1203.5" font-size="20" fill="#3f8fc3" textLength="90.2" lengthAdjust="spacingAndGlyphs" stroke="#3f8fc3" stroke-width="0.85" stroke-linejoin="round">$479,231</text>
<text x="45.3" y="1227.5" font-size="20" fill="#dc730c" textLength="92.2" lengthAdjust="spacingAndGlyphs" stroke="#dc730c" stroke-width="0.85" stroke-linejoin="round">$277,429</text>
<text x="210" y="1144.9" font-size="19.5" fill="#2b2b2b" font-weight="bold" textLength="119.3" lengthAdjust="spacingAndGlyphs">Shaganappi</text>
<text x="210" y="1167.9" font-size="19.5" fill="#2b2b2b" font-weight="bold" textLength="52.3" lengthAdjust="spacingAndGlyphs">Point</text>
<text x="208.5" y="1204.5" font-size="20" fill="#3f8fc3" textLength="90.7" lengthAdjust="spacingAndGlyphs" stroke="#3f8fc3" stroke-width="0.85" stroke-linejoin="round">$660,125</text>
<text x="208.5" y="1228.5" font-size="20" fill="#dc730c" textLength="91.2" lengthAdjust="spacingAndGlyphs" stroke="#dc730c" stroke-width="0.85" stroke-linejoin="round">$261,275</text>
<text x="366" y="1145.9" font-size="19.5" fill="#2b2b2b" font-weight="bold" textLength="108.8" lengthAdjust="spacingAndGlyphs">Downtown</text>
<text x="366" y="1168.9" font-size="19.5" fill="#2b2b2b" font-weight="bold" textLength="115.3" lengthAdjust="spacingAndGlyphs">West/Kerby</text>
<text x="363.7" y="1205.5" font-size="20" fill="#3f8fc3" textLength="88.2" lengthAdjust="spacingAndGlyphs" stroke="#3f8fc3" stroke-width="0.85" stroke-linejoin="round">$776,125</text>
<text x="363.7" y="1229.5" font-size="20" fill="#dc730c" textLength="95.7" lengthAdjust="spacingAndGlyphs" stroke="#dc730c" stroke-width="0.85" stroke-linejoin="round">$349,264</text>
<text x="522" y="1145.9" font-size="19.5" fill="#2b2b2b" font-weight="bold" textLength="68.8" lengthAdjust="spacingAndGlyphs">Centre</text>
<text x="522" y="1168.9" font-size="19.5" fill="#2b2b2b" font-weight="bold" textLength="61.3" lengthAdjust="spacingAndGlyphs">Street</text>
<text x="522" y="1208.5" font-size="20" fill="#3f8fc3" textLength="37.4" lengthAdjust="spacingAndGlyphs" stroke="#3f8fc3" stroke-width="0.85" stroke-linejoin="round">N/A</text>
<text x="522" y="1231.5" font-size="20" fill="#dc730c" textLength="97.2" lengthAdjust="spacingAndGlyphs" stroke="#dc730c" stroke-width="0.85" stroke-linejoin="round">$385,325</text>
<text x="678" y="1145.9" font-size="19.5" fill="#2b2b2b" font-weight="bold" textLength="26.3" lengthAdjust="spacingAndGlyphs">39</text>
<text x="678" y="1168.9" font-size="19.5" fill="#2b2b2b" font-weight="bold" textLength="76.3" lengthAdjust="spacingAndGlyphs">Avenue</text>
<text x="677" y="1207.5" font-size="20" fill="#3f8fc3" textLength="97.2" lengthAdjust="spacingAndGlyphs" stroke="#3f8fc3" stroke-width="0.85" stroke-linejoin="round">$656,450</text>
<text x="677" y="1231.5" font-size="20" fill="#dc730c" textLength="89.7" lengthAdjust="spacingAndGlyphs" stroke="#dc730c" stroke-width="0.85" stroke-linejoin="round">$217,000</text>
<text x="46" y="1308.9" font-size="19.5" fill="#2b2b2b" font-weight="bold" textLength="92.3" lengthAdjust="spacingAndGlyphs">69 Street</text>
<text x="45.2" y="1343.5" font-size="20" fill="#3f8fc3" textLength="92.7" lengthAdjust="spacingAndGlyphs" stroke="#3f8fc3" stroke-width="0.85" stroke-linejoin="round">$926,641</text>
<text x="45.2" y="1367.5" font-size="20" fill="#dc730c" textLength="96.7" lengthAdjust="spacingAndGlyphs" stroke="#dc730c" stroke-width="0.85" stroke-linejoin="round">$265,667</text>
<text x="207" y="1308.9" font-size="19.5" fill="#2b2b2b" font-weight="bold" textLength="108.3" lengthAdjust="spacingAndGlyphs">Westbrook</text>
<text x="206.2" y="1343.5" font-size="20" fill="#3f8fc3" textLength="98.2" lengthAdjust="spacingAndGlyphs" stroke="#3f8fc3" stroke-width="0.85" stroke-linejoin="round">$589,540</text>
<text x="206.2" y="1367.5" font-size="20" fill="#dc730c" textLength="87.2" lengthAdjust="spacingAndGlyphs" stroke="#dc730c" stroke-width="0.85" stroke-linejoin="round">$227,143</text>
<text x="366" y="1308.9" font-size="19.5" fill="#2b2b2b" font-weight="bold" textLength="79.8" lengthAdjust="spacingAndGlyphs">6 Street</text>
<text x="366" y="1341.5" font-size="20" fill="#3f8fc3" textLength="37.4" lengthAdjust="spacingAndGlyphs" stroke="#3f8fc3" stroke-width="0.85" stroke-linejoin="round">N/A</text>
<text x="366" y="1365.5" font-size="20" fill="#dc730c" textLength="92.2" lengthAdjust="spacingAndGlyphs" stroke="#dc730c" stroke-width="0.85" stroke-linejoin="round">$491,893</text>
<text x="522" y="1309.9" font-size="19.5" fill="#2b2b2b" font-weight="bold" textLength="84.3" lengthAdjust="spacingAndGlyphs">Chinook</text>
<text x="522" y="1341.5" font-size="20" fill="#3f8fc3" textLength="37.4" lengthAdjust="spacingAndGlyphs" stroke="#3f8fc3" stroke-width="0.85" stroke-linejoin="round">N/A</text>
<text x="522" y="1365.5" font-size="20" fill="#dc730c" textLength="37.4" lengthAdjust="spacingAndGlyphs" stroke="#dc730c" stroke-width="0.85" stroke-linejoin="round">N/A</text>
<text x="678" y="1309.9" font-size="19.5" fill="#2b2b2b" font-weight="bold" textLength="102.8" lengthAdjust="spacingAndGlyphs">Southland</text>
<text x="678" y="1341.5" font-size="20" fill="#3f8fc3" textLength="87.7" lengthAdjust="spacingAndGlyphs" stroke="#3f8fc3" stroke-width="0.85" stroke-linejoin="round">$375,147</text>
<text x="678" y="1365.5" font-size="20" fill="#dc730c" textLength="37.4" lengthAdjust="spacingAndGlyphs" stroke="#dc730c" stroke-width="0.85" stroke-linejoin="round">N/A</text>
<text x="585.5" y="1456.8" font-size="18" fill="#9c9c9c" font-weight="bold" textLength="129.7" lengthAdjust="spacingAndGlyphs">Methodology:</text>
<line x1="585.5" y1="1459.5" x2="715.2" y2="1459.5" stroke="#9c9c9c" stroke-width="1"/>
<text x="215" y="1489" font-size="18" fill="#9c9c9c" textLength="870.5" lengthAdjust="spacingAndGlyphs">Sold home prices for January to April 2019 were sourced from the Calgary Real Estate Board.</text>
<text x="218" y="1509.8" font-size="18" fill="#9c9c9c" textLength="864.5" lengthAdjust="spacingAndGlyphs">A 800m radius from each station was used as the boundary. Data was pulled on May 3, 2019.</text>
<text x="147" y="1543" font-size="18" fill="#9c9c9c" textLength="1006.5" lengthAdjust="spacingAndGlyphs">An average sold price is not displayed in the infographic if there were fewer than 3 sales for that home type.</text>
<text x="356" y="1575.8" font-size="18" fill="#9c9c9c" textLength="588.5" lengthAdjust="spacingAndGlyphs">House prices includes prices of detached and attached houses.</text>
<rect x="0" y="1618.8" width="1300" height="155" fill="#eef0f0"/>
<text x="52.3" y="1678.5" font-size="19.5" fill="#4c4c4c" textLength="905.7" lengthAdjust="spacingAndGlyphs" stroke="#4c4c4c" stroke-width="0.35">Zoocasa.com is a real estate website and brokerage that provides advanced online search tools</text>
<text x="52.3" y="1699" font-size="19.5" fill="#4c4c4c" textLength="900.7" lengthAdjust="spacingAndGlyphs" stroke="#4c4c4c" stroke-width="0.35">and data to empower Canadians to buy or sell their homes faster, easier and more successfully.</text>
<text x="52.3" y="1719.6" font-size="19.5" fill="#4c4c4c" textLength="753.7" lengthAdjust="spacingAndGlyphs" stroke="#4c4c4c" stroke-width="0.35">Home buyers can browse real estate listings on the website or the free iOS app.</text>
<line x1="1006.5" y1="1651" x2="1006.5" y2="1740" stroke="#a9a9c4" stroke-width="1.3"/>
<text x="1063.4" y="1705" font-size="44.2" font-weight="bold" fill="#2a2c38" textLength="176" lengthAdjust="spacingAndGlyphs" stroke="#2a2c38" stroke-width="1.3" stroke-linejoin="round">zoocasa</text>
</svg></body></html>
